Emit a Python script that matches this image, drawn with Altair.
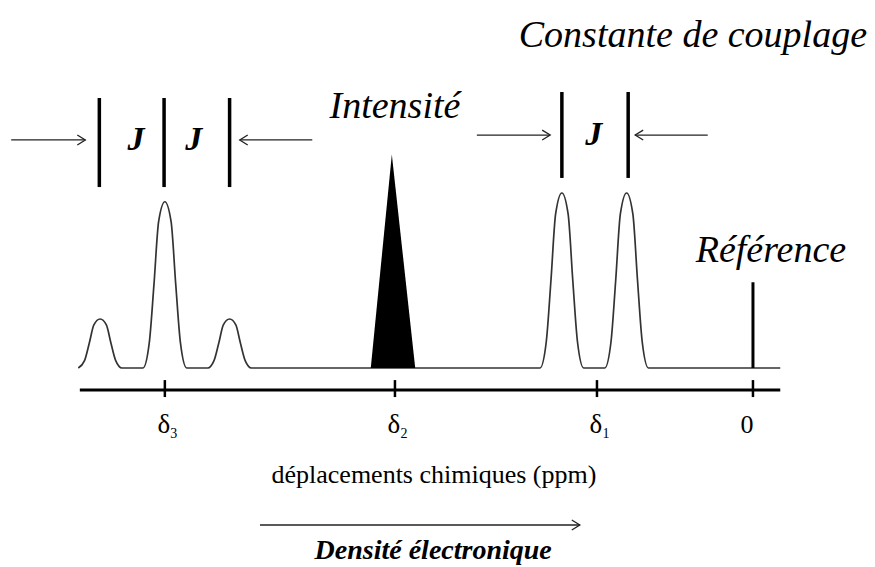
import altair as alt
import pandas as pd

FONT = "Liberation Serif"

# ---- spectrum trace (ppm, intensity) ----
spec_ppm = [8.65, 8.57, 8.51, 8.45, 8.37, 8.29, 8.23, 8.17, 8.09,
            7.82, 7.74, 7.68, 7.62, 7.54, 7.46, 7.40, 7.34, 7.26,
            6.99, 6.91, 6.85, 6.79, 6.71, 6.63, 6.57, 6.51, 6.43,
            2.73, 2.65, 2.59, 2.53, 2.45, 2.37, 2.31, 2.25, 2.17,
            1.90, 1.82, 1.76, 1.70, 1.62, 1.54, 1.48, 1.42, 1.34,
            -0.35]
spec_int = [0, 4.2, 14, 24.6, 28, 24.6, 14, 4.2, 0,
            0, 14.3, 47.5, 83.6, 95, 83.6, 47.5, 14.3, 0,
            0, 4.2, 14, 24.6, 28, 24.6, 14, 4.2, 0,
            0, 15, 50, 88, 100, 88, 50, 15, 0,
            0, 15, 50, 88, 100, 88, 50, 15, 0,
            0]

# singlet (filled triangle) at delta2
tri_ppm = [4.90, 4.63, 4.33]
tri_int = [0, 122, 0]

# reference line (TMS) at 0 ppm
ref_ppm = [0.0]
ref_int = [49]

# coupling-constant bars
jbar_ppm = [8.38, 7.55, 6.71, 2.45, 1.60]
jbar_lo = [103.4, 103.4, 103.4, 108.6, 108.6]
jbar_hi = [154.3, 154.3, 154.3, 157.7, 157.7]

# J labels
jlab_ppm = [7.91, 7.17, 2.04]
jlab_int = [130.3, 130.3, 133.1]

# arrows: tail, tip, level, on-screen direction
arr_tail = [9.51, 5.65, 3.54, 0.58, 6.32]
arr_tip = [8.56, 6.58, 2.60, 1.51, 2.22]
arr_int = [130.3, 130.3, 133.1, 133.1, -89.7]
arr_dir = ["right", "left", "right", "left", "right"]

# x axis
axis_from, axis_to, axis_level = 8.63, -0.35, -12.6
tick_ppm = [7.54, 4.59, 2.0, 0.0]
tick_lo, tick_hi = -16.6, -6.9
tick_main = ["δ", "δ", "δ", "0"]
tick_sub = ["3", "2", "1", ""]
ticklab_level = -32.6

# free texts (x in ppm, y = text baseline in intensity units)
title_text = "Constante de couplage"
title_pos = (0.77, 183.4)
int_text = "Intensité"
int_pos = (4.59, 142.9)
ref_text = "Référence"
ref_pos = (-0.23, 60.6)
xlab_text = "déplacements chimiques (ppm)"
xlab_pos = (4.09, -65.7)
dens_text = "Densité électronique"
dens_pos = (4.10, -109.0)

# ---- scales (shared) ----
W, H = 859, 559
xs = alt.Scale(domain=[-1.462, 9.551], reverse=True, nice=False, zero=False)
ys = alt.Scale(domain=[-113.71, 205.71], nice=False, zero=False)


def X(f="x"):
    return alt.X(f"{f}:Q", scale=xs, axis=None)


def Y(f="y"):
    return alt.Y(f"{f}:Q", scale=ys, axis=None)


spec = alt.Chart(pd.DataFrame({"x": spec_ppm, "y": spec_int})).mark_line(
    interpolate="monotone", color="#333333", strokeWidth=1.7
).encode(x=X(), y=Y())

tri = alt.Chart(pd.DataFrame({"x": tri_ppm, "y": tri_int})).mark_area(
    color="black", interpolate="linear"
).encode(x=X(), y=Y(), y2=alt.datum(0))

ref = alt.Chart(pd.DataFrame({"x": ref_ppm, "y": ref_int, "y0": [0]})).mark_rule(
    color="black", strokeWidth=3
).encode(x=X(), y=Y(), y2="y0:Q")

jbars = alt.Chart(pd.DataFrame({"x": jbar_ppm, "lo": jbar_lo, "hi": jbar_hi})).mark_rule(
    color="black", strokeWidth=3.5
).encode(x=X(), y=Y("lo"), y2="hi:Q")

jlabs = alt.Chart(pd.DataFrame({"x": jlab_ppm, "y": jlab_int, "t": ["J"] * 3})).mark_text(
    font=FONT, fontSize=34, fontStyle="italic", fontWeight="bold", baseline="middle"
).encode(x=X(), y=Y(), text="t:N")

arr_df = pd.DataFrame({"tail": arr_tail, "tip": arr_tip, "y": arr_int, "dir": arr_dir})
shafts = alt.Chart(arr_df).mark_rule(color="#222222", strokeWidth=1.3).encode(
    x=X("tail"), x2="tip:Q", y=Y()
)
HEAD = "M -1 -0.62 L 0 0 L -1 0.62"
heads_r = alt.Chart(arr_df).transform_filter(alt.datum.dir == "right").mark_point(
    shape=HEAD, filled=False, color="#222222", strokeWidth=1.3, size=256, angle=0, opacity=1
).encode(x=X("tip"), y=Y())
heads_l = alt.Chart(arr_df).transform_filter(alt.datum.dir == "left").mark_point(
    shape=HEAD, filled=False, color="#222222", strokeWidth=1.3, size=256, angle=180, opacity=1
).encode(x=X("tip"), y=Y())

axis_line = alt.Chart(pd.DataFrame({"a": [axis_from], "b": [axis_to], "y": [axis_level]})).mark_rule(
    color="black", strokeWidth=3
).encode(x=X("a"), x2="b:Q", y=Y())

ticks = alt.Chart(pd.DataFrame({"x": tick_ppm, "lo": [tick_lo] * 4, "hi": [tick_hi] * 4})).mark_rule(
    color="black", strokeWidth=2.5
).encode(x=X(), y=Y("lo"), y2="hi:Q")

tick_df = pd.DataFrame({"x": tick_ppm, "y": [ticklab_level] * 4, "m": tick_main, "s": tick_sub})
tlab_delta = alt.Chart(tick_df).transform_filter(alt.datum.s != "").mark_text(
    font=FONT, fontSize=27, baseline="middle", dx=-1
).encode(x=X(), y=Y(), text="m:N")
tlab_zero = alt.Chart(tick_df).transform_filter(alt.datum.s == "").mark_text(
    font=FONT, fontSize=26, baseline="middle", dx=-6
).encode(x=X(), y=Y(), text="m:N")
tlab_sub = alt.Chart(tick_df).mark_text(
    font=FONT, fontSize=14, baseline="middle", dx=9, dy=9
).encode(x=X(), y=Y(), text="s:N")


def free_text(txt, pos, size, style="normal", weight="normal"):
    return alt.Chart(pd.DataFrame({"x": [pos[0]], "y": [pos[1]], "t": [txt]})).mark_text(
        font=FONT, fontSize=size, fontStyle=style, fontWeight=weight,
        baseline="alphabetic", align="center"
    ).encode(x=X(), y=Y(), text="t:N")


texts = [
    free_text(title_text, title_pos, 38, "italic"),
    free_text(int_text, int_pos, 38, "italic"),
    free_text(ref_text, ref_pos, 38, "italic"),
    free_text(xlab_text, xlab_pos, 26),
    free_text(dens_text, dens_pos, 28, "italic", "bold"),
]

chart = alt.layer(
    spec, tri, ref, jbars, jlabs, shafts, heads_r, heads_l,
    axis_line, ticks, tlab_delta, tlab_zero, tlab_sub, *texts
).properties(
    width=W, height=H, autosize=alt.AutoSizeParams(type="none"), padding=0
).configure_view(stroke=None)

chart.save("out.html", embed_options={"renderer": "svg", "actions": False})
